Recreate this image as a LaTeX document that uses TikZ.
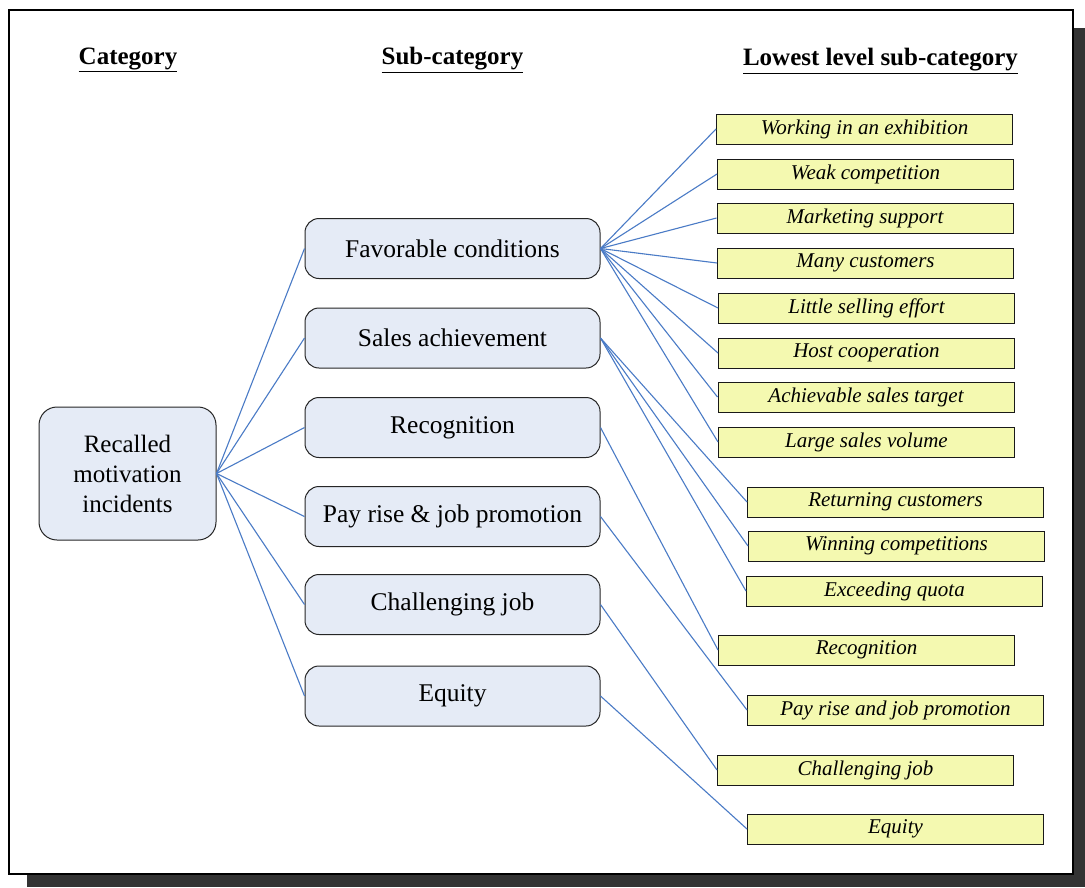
\documentclass[tikz,border=0pt]{standalone}
\usepackage{fontspec}
\setmainfont{Liberation Serif}
\definecolor{subfill}{HTML}{E5EBF6}
\definecolor{leaffill}{HTML}{F4F9B0}
\definecolor{linkblue}{HTML}{4A7BC6}
\definecolor{shadowgray}{HTML}{333333}
\begin{document}
\begin{tikzpicture}[x=1pt,y=-1pt,
  header/.style={font=\fontsize{25}{30}\selectfont\bfseries, inner sep=0pt},
  mainbox/.style={draw=black!85, fill=subfill, rounded corners=18pt, minimum width=177pt, minimum height=133pt, inner sep=0pt, line width=1pt, align=center, font=\fontsize{25}{30}\selectfont},
  subbox/.style={draw=black!85, fill=subfill, rounded corners=14pt, minimum width=295pt, minimum height=60pt, inner sep=0pt, line width=1pt, font=\fontsize{25.5}{30}\selectfont},
  leaf/.style={draw=black!90, fill=leaffill, minimum width=296pt, minimum height=30pt, inner sep=0pt, line width=1pt, font=\fontsize{21}{25}\selectfont\itshape},
  conn/.style={draw=linkblue, line width=1.1pt}]
\useasboundingbox (0,0) rectangle (1085,887);
\fill[white] (0,0) rectangle (1085,887);
\fill[shadowgray] (27,28) rectangle (1085,887);
\draw[black, line width=1.4pt, fill=white] (9,10) rectangle (1073,874);

\node[header] (h1) at (128,60) {\underline{Category}};
\node[header] (h2) at (452.5,60) {\underline{Sub-category}};
\node[header] (h3) at (880.5,61) {\underline{Lowest level sub-category}};

\node[mainbox] (m) at (127.5,473.5) {Recalled\\motivation\\incidents};

\node[subbox] (s1) at (452.5,248.5) {Favorable conditions};
\node[subbox] (s2) at (452.5,338) {Sales achievement};
\node[subbox] (s3) at (452.5,427.5) {Recognition};
\node[subbox] (s4) at (452.5,516.5) {Pay rise \& job promotion};
\node[subbox] (s5) at (452.5,604.5) {Challenging job};
\node[subbox] (s6) at (452.5,696) {Equity};

\node[leaf] (l1) at (864.5,129) {Working in an exhibition};
\node[leaf] (l2) at (865.5,174) {Weak competition};
\node[leaf] (l3) at (865,218) {Marketing support};
\node[leaf] (l4) at (865.5,263) {Many customers};
\node[leaf] (l5) at (866.5,308) {Little selling effort};
\node[leaf] (l6) at (866.5,353) {Host cooperation};
\node[leaf] (l7) at (866,397) {Achievable sales target};
\node[leaf] (l8) at (866.5,442) {Large sales volume};
\node[leaf] (l9) at (895.5,502) {Returning customers};
\node[leaf] (l10) at (896.5,546) {Winning competitions};
\node[leaf] (l11) at (894.5,591) {Exceeding quota};
\node[leaf] (l12) at (866.5,650) {Recognition};
\node[leaf] (l13) at (895.5,710) {Pay rise and job promotion};
\node[leaf] (l14) at (865.5,770) {Challenging job};
\node[leaf] (l15) at (895.5,829) {Equity};

\foreach \s in {s1,s2,s3,s4,s5,s6} \draw[conn] (m.east) -- (\s.west);
\foreach \l in {l1,l2,l3,l4,l5,l6,l7,l8} \draw[conn] (s1.east) -- (\l.west);
\foreach \l in {l9,l10,l11} \draw[conn] (s2.east) -- (\l.west);
\draw[conn] (s3.east) -- (l12.west);
\draw[conn] (s4.east) -- (l13.west);
\draw[conn] (s5.east) -- (l14.west);
\draw[conn] (s6.east) -- (l15.west);
\end{tikzpicture}
\end{document}
